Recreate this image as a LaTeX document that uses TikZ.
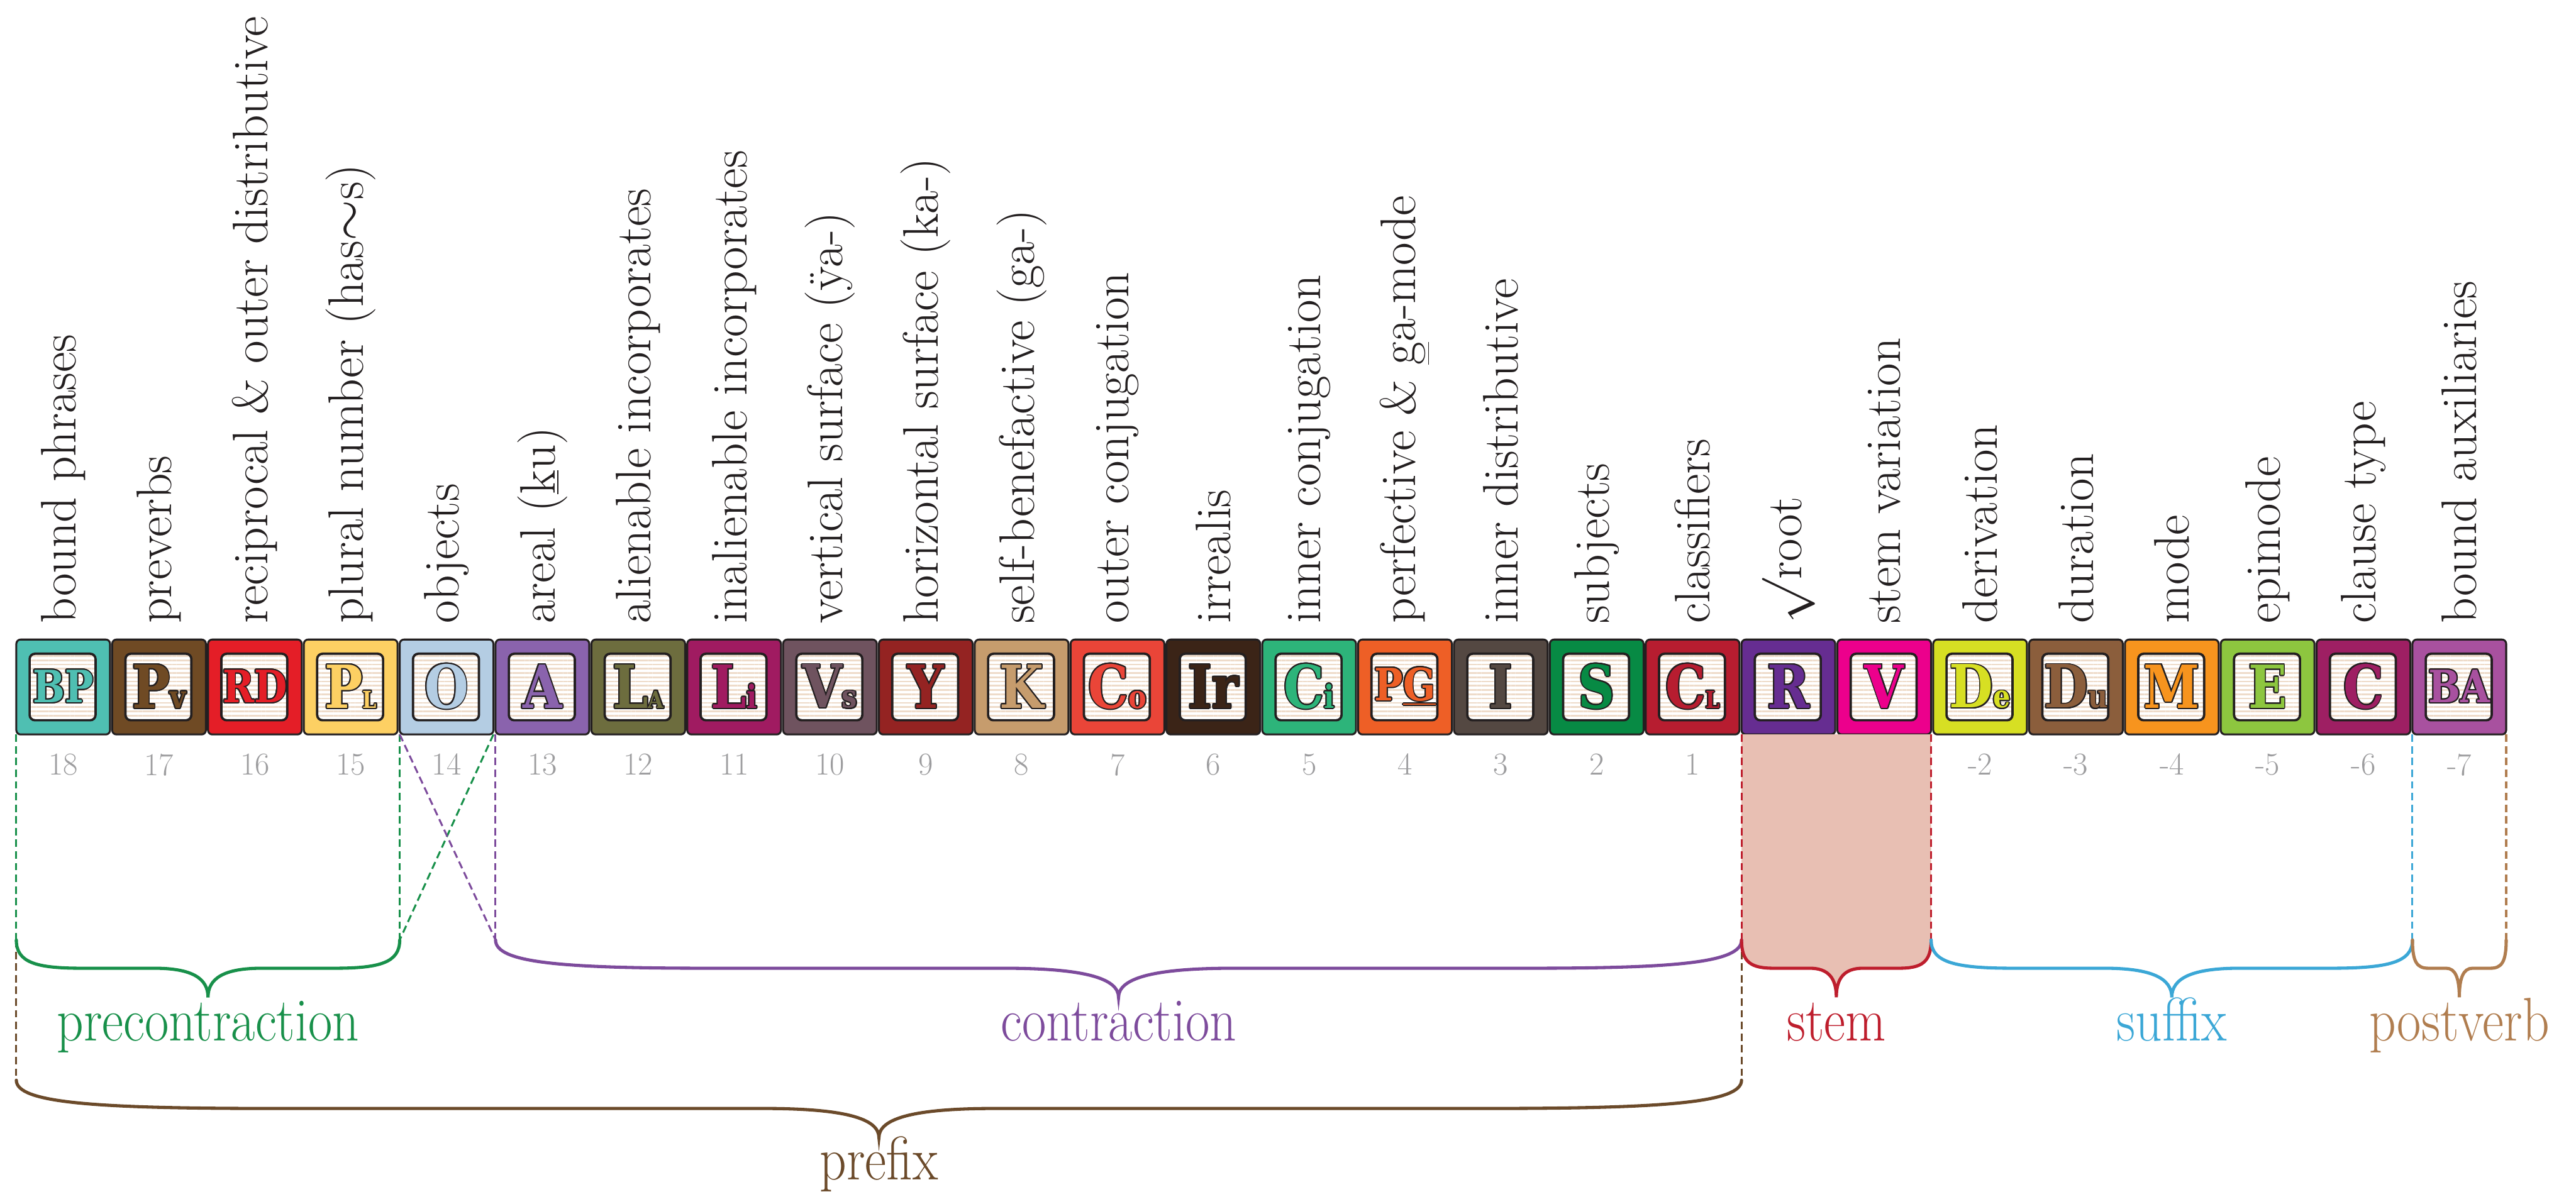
\documentclass[tikz,border=0pt]{standalone}
\usepackage{fontspec}
\usepackage{graphicx}
\usepackage{contour}
\usetikzlibrary{positioning,calc,patterns.meta}

\newfontfamily\blockfont{DejaVu Serif}
\contourlength{0.55pt}

\definecolor{ink}{HTML}{231F20}
\definecolor{numgray}{HTML}{9D9D9F}
\definecolor{stripe}{HTML}{EEDBC9}
\definecolor{stemfill}{HTML}{E8BFB3}
% block colours
\definecolor{cbp}{HTML}{4FBFB2}
\definecolor{cpv}{HTML}{6F4A24}
\definecolor{crd}{HTML}{E41E27}
\definecolor{cpl}{HTML}{FDD063}
\definecolor{cobj}{HTML}{B4CDE3}
\definecolor{car}{HTML}{8A63AD}
\definecolor{cla}{HTML}{6D6D3E}
\definecolor{cli}{HTML}{A01B61}
\definecolor{cvs}{HTML}{6F535F}
\definecolor{cy}{HTML}{942322}
\definecolor{ck}{HTML}{C69C6D}
\definecolor{cco}{HTML}{EA4538}
\definecolor{cir}{HTML}{3B2417}
\definecolor{cci}{HTML}{2DB47A}
\definecolor{cpg}{HTML}{EE5F26}
\definecolor{cinds}{HTML}{544842}
\definecolor{csubj}{HTML}{078A44}
\definecolor{ccl}{HTML}{B71D30}
\definecolor{croot}{HTML}{662D91}
\definecolor{csv}{HTML}{EC008C}
\definecolor{cde}{HTML}{D7DF23}
\definecolor{cdu}{HTML}{8B5E3C}
\definecolor{cmo}{HTML}{F7941E}
\definecolor{cep}{HTML}{8DC63F}
\definecolor{cct}{HTML}{9E1F63}
\definecolor{cba}{HTML}{A8519F}
% group colours
\definecolor{grn}{HTML}{18904A}
\definecolor{pur}{HTML}{7D4B9C}
\definecolor{stm}{HTML}{BE1E2D}
\definecolor{suf}{HTML}{3BA7D6}
\definecolor{pvb}{HTML}{B07D4F}
\definecolor{pfx}{HTML}{6B4A2A}

\newcommand{\capL}{\fontsize{28}{28}\selectfont}
\newcommand{\pairL}{\fontsize{21}{21}\selectfont}
\newcommand{\subL}{\fontsize{15}{15}\selectfont}
\newcommand{\scL}{\fontsize{11}{11}\selectfont}
\newcommand{\tagfont}{\fontsize{23.5}{27}\selectfont\addfontfeatures{LetterSpace=3.5,FakeBold=0.6}}
\newcommand{\numfont}{\fontsize{15}{18}\selectfont}
\newcommand{\grpfont}{\fontsize{29}{33}\selectfont}
\newcommand{\tileglyph}[1]{\contour{ink}{\scalebox{0.85}[1]{#1}}}

% curly brace hanging down from #1 to #2
\newcommand{\bracepath}[2]{%
  let \p1=(#1), \p2=(#2), \n1={(\x1+\x2)/2},
      \n2={min(0.17*(\x2-\x1),120pt)}, \n3={min(0.14*(\x2-\x1),54pt)} in
  .. controls (\x1,\y1-10.6pt) and (\x1+0.3*\n2,\y1-13.3pt) .. (\x1+\n2,\y1-13.3pt)
  -- (\n1-\n3,\y1-13.3pt)
  .. controls (\n1-0.3*\n3,\y1-13.3pt) and (\n1,\y1-18pt) .. (\n1,\y1-27pt)
  .. controls (\n1,\y1-18pt) and (\n1+0.3*\n3,\y1-13.3pt) .. (\n1+\n3,\y1-13.3pt)
  -- (\x2-\n2,\y1-13.3pt)
  .. controls (\x2-0.3*\n2,\y1-13.3pt) and (\x2,\y1-10.6pt) .. (\x2,\y1)}

\tikzset{
  block/.style={draw=ink, line width=0.9pt, rounded corners=2pt, fill=#1, text=#1,
    minimum width=1.55cm, minimum height=1.57cm, inner sep=0pt, outer sep=0pt,
    font=\blockfont\bfseries,
    path picture={\draw[draw=ink, line width=1.1pt, rounded corners=2.5pt,
      preaction={fill=white}, pattern={Lines[distance=2pt,line width=0.8pt]}, pattern color=stripe]
      ([shift={(0.22cm,0.235cm)}]path picture bounding box.south west) rectangle
      ([shift={(-0.24cm,-0.235cm)}]path picture bounding box.north east);}},
  num/.style={text=numgray, font=\numfont, inner sep=0pt, label distance=0.31cm},
  tag/.style={rotate=90, anchor=west, inner sep=0pt, font=\tagfont, text=ink},
  guide/.style={draw=#1, dash pattern=on 3.5pt off 2pt, line width=0.9pt},
  curly/.style={draw=#1, line width=1.5pt, line cap=round},
  grp/.style={text=#1, anchor=base, font=\grpfont, inner sep=0pt}
}

\begin{document}
\begin{tikzpicture}[node distance=0.035cm]
    \useasboundingbox (0,0) rectangle (42.6,19.71);

    % slots
    \node[block=cbp, label={[num]below:18}] (bp) at (1.045,8.345) {\tileglyph{\pairL BP}};
    \node[block=cpv, right=of bp, label={[num]below:17}] (pv) {\tileglyph{\capL P\subL v}};
    \node[block=crd, right=of pv, label={[num]below:16}] (rd) {\tileglyph{\pairL RD}};
    \node[block=cpl, right=of rd, label={[num]below:15}] (pl) {\tileglyph{\capL P\scL L}};
    \node[block=cobj, right=of pl, label={[num]below:14}] (obj) {\tileglyph{\capL O}};
    \node[block=car, right=of obj, label={[num]below:13}] (ar) {\tileglyph{\capL A}};
    \node[block=cla, right=of ar, label={[num]below:12}] (la) {\tileglyph{\capL L\scL A}};
    \node[block=cli, right=of la, label={[num]below:11}] (li) {\tileglyph{\capL L\subL i}};
    \node[block=cvs, right=of li, label={[num]below:10}] (vs) {\tileglyph{\capL V\subL s}};
    \node[block=cy, right=of vs, label={[num]below:9}] (y) {\tileglyph{\capL Y}};
    \node[block=ck, right=of y, label={[num]below:8}] (k) {\tileglyph{\capL K}};
    \node[block=cco, right=of k, label={[num]below:7}] (co) {\tileglyph{\capL C\subL o}};
    \node[block=cir, right=of co, label={[num]below:6}] (ir) {\tileglyph{\capL Ir}};
    \node[block=cci, right=of ir, label={[num]below:5}] (ci) {\tileglyph{\capL C\subL i}};
    \node[block=cpg, right=of ci, label={[num]below:4}] (pg) {\tileglyph{\pairL P\underline{G}}};
    \node[block=cinds, right=of pg, label={[num]below:3}] (inds) {\tileglyph{\capL I}};
    \node[block=csubj, right=of inds, label={[num]below:2}] (subj) {\tileglyph{\capL S}};
    \node[block=ccl, right=of subj, label={[num]below:1}] (cl) {\tileglyph{\capL C\scL L}};
    \node[block=croot, right=of cl, label={[num]below:0}] (root) {\tileglyph{\capL R}};
    \node[block=csv, right=of root, label={[num]below:-1}] (sv) {\tileglyph{\capL V}};
    \node[block=cde, right=of sv, label={[num]below:-2}] (de) {\tileglyph{\capL D\subL e}};
    \node[block=cdu, right=of de, label={[num]below:-3}] (du) {\tileglyph{\capL D\subL u}};
    \node[block=cmo, right=of du, label={[num]below:-4}] (mo) {\tileglyph{\capL M}};
    \node[block=cep, right=of mo, label={[num]below:-5}] (ep) {\tileglyph{\capL E}};
    \node[block=cct, right=of ep, label={[num]below:-6}] (ct) {\tileglyph{\capL C}};
    \node[block=cba, right=of ct, label={[num]below:-7}] (ba) {\tileglyph{\pairL BA}};

    % slot names
    \node[tag] (tbp) at ([yshift=0.26cm]bp.north) {bound phrases};
    \node[tag] (tpv) at ([yshift=0.26cm]pv.north) {preverbs};
    \node[tag] (trd) at ([yshift=0.26cm]rd.north) {reciprocal \& outer distributive};
    \node[tag] (tpl) at ([yshift=0.26cm]pl.north) {plural number (has$\sim$s)};
    \node[tag] (tobj) at ([yshift=0.26cm]obj.north) {objects};
    \node[tag] (tar) at ([yshift=0.26cm]ar.north) {areal (\underline{k}u)};
    \node[tag] (tla) at ([yshift=0.26cm]la.north) {alienable incorporates};
    \node[tag] (tli) at ([yshift=0.26cm]li.north) {inalienable incorporates};
    \node[tag] (tvs) at ([yshift=0.26cm]vs.north) {vertical surface (ÿa-)};
    \node[tag] (ty) at ([yshift=0.26cm]y.north) {horizontal surface (ka-)};
    \node[tag] (tk) at ([yshift=0.26cm]k.north) {self-benefactive (ga-)};
    \node[tag] (tco) at ([yshift=0.26cm]co.north) {outer conjugation};
    \node[tag] (tir) at ([yshift=0.26cm]ir.north) {irrealis};
    \node[tag] (tci) at ([yshift=0.26cm]ci.north) {inner conjugation};
    \node[tag] (tpg) at ([yshift=0.26cm]pg.north) {perfective \& \underline{g}a-mode};
    \node[tag] (tinds) at ([yshift=0.26cm]inds.north) {inner distributive};
    \node[tag] (tsubj) at ([yshift=0.26cm]subj.north) {subjects};
    \node[tag] (tcl) at ([yshift=0.26cm]cl.north) {classifiers};
    \node[tag] (troot) at ([yshift=0.26cm]root.north) {$\surd$root};
    \node[tag] (tsv) at ([yshift=0.26cm]sv.north) {stem variation};
    \node[tag] (tde) at ([yshift=0.26cm]de.north) {derivation};
    \node[tag] (tdu) at ([yshift=0.26cm]du.north) {duration};
    \node[tag] (tmo) at ([yshift=0.26cm]mo.north) {mode};
    \node[tag] (tep) at ([yshift=0.26cm]ep.north) {epimode};
    \node[tag] (tct) at ([yshift=0.26cm]ct.north) {clause type};
    \node[tag] (tba) at ([yshift=0.26cm]ba.north) {bound auxiliaries};

    % brace ends
    \coordinate (lvl) at (0,4.16);
    \coordinate (lvlb) at (0,1.84);
    \coordinate (preL) at (bp.south west |- lvl);
    \coordinate (preR) at (obj.south west |- lvl);
    \coordinate (conL) at (ar.south west |- lvl);
    \coordinate (conR) at (root.south west |- lvl);
    \coordinate (stR) at (sv.south east |- lvl);
    \coordinate (suR) at (ba.south west |- lvl);
    \coordinate (pvR) at (ba.south east |- lvl);
    \coordinate (pfL) at (bp.south west |- lvlb);
    \coordinate (pfR) at (root.south west |- lvlb);

    % stem shading
    \fill[stemfill] (root.south west) -- (conR) \bracepath{conR}{stR} -- (sv.south east) -- cycle;

    % dashed guides
    \draw[guide=grn] (bp.south west) -- (preL);
    \draw[guide=grn] (obj.south west) -- (preR);
    \draw[guide=grn] (obj.south east) -- (preR);
    \draw[guide=pur] (ar.south west) -- (conL);
    \draw[guide=pur] (obj.south west) -- (conL);
    \draw[guide=stm] (root.south west) -- (conR);
    \draw[guide=stm] (sv.south east) -- (stR);
    \draw[guide=suf] (ba.south west) -- (suR);
    \draw[guide=pvb] (ba.south east) -- (pvR);
    \draw[guide=pfx] (preL) -- (pfL);
    \draw[guide=pfx] (conR) -- (pfR);

    % braces
    \draw[curly=grn] (preL) \bracepath{preL}{preR};
    \draw[curly=pur] (conL) \bracepath{conL}{conR};
    \draw[curly=stm] (conR) \bracepath{conR}{stR};
    \draw[curly=suf] (stR) \bracepath{stR}{suR};
    \draw[curly=pvb] (suR) \bracepath{suR}{pvR};
    \draw[curly=pfx] (pfL) \bracepath{pfL}{pfR};

    % group names
    \node[grp=grn] (precon) at ($(preL)!0.5!(preR)+(0,-1.67)$) {\scalebox{0.85}[1]{precontraction}};
    \node[grp=pur] (con) at ($(conL)!0.5!(conR)+(0,-1.67)$) {\scalebox{0.85}[1]{contraction}};
    \node[grp=stm] (stem) at ($(conR)!0.5!(stR)+(0,-1.67)$) {\scalebox{0.85}[1]{stem}};
    \node[grp=suf] (suffix) at ($(stR)!0.5!(suR)+(0,-1.67)$) {\scalebox{0.85}[1]{suffix}};
    \node[grp=pvb] (postverb) at ($(suR)!0.5!(pvR)+(0,-1.67)$) {\scalebox{0.85}[1]{postverb}};
    \node[grp=pfx] (prefix) at ($(pfL)!0.5!(pfR)+(0,-1.65)$) {\scalebox{0.85}[1]{prefix}};
\end{tikzpicture}
\end{document}
